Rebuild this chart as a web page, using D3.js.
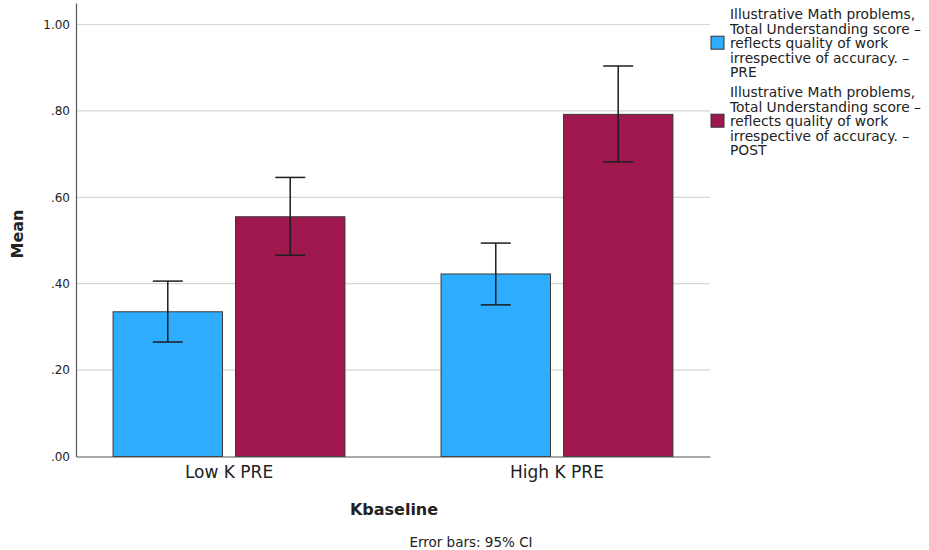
<!DOCTYPE html>
<html>
<head>
<meta charset="utf-8">
<script src="https://cdn.jsdelivr.net/npm/d3@7"></script>
<style>
  body { margin: 0; background: #fff; }
  svg text { font-family: "DejaVu Sans", sans-serif; fill: #222; }
</style>
</head>
<body>
<div id="chart"></div>
<script>
// Data
const categories = ["Low K PRE", "High K PRE"];
const seriesKeys = ["PRE", "POST"];
const preMeans = [0.335, 0.4225];
const preLower = [0.265, 0.351];
const preUpper = [0.406, 0.494];
const postMeans = [0.555, 0.792];
const postLower = [0.466, 0.682];
const postUpper = [0.646, 0.904];
const yTicks = [0, 0.2, 0.4, 0.6, 0.8, 1.0];
const legendLines = [
    "Illustrative Math problems,",
    "Total Understanding score –",
    "reflects quality of work",
    "irrespective of accuracy. –"
];
const colors = { PRE: "#2eadff", POST: "#9f184d" };

const width = 929, height = 550;
const plot = { left: 76, right: 710, top: 2.9, bottom: 456.5 };

const svg = d3.select("#chart")
    .append("svg")
    .attr("width", width)
    .attr("height", height);

// Build rows for each category/series
const rows = [];
categories.forEach((c, i) => {
    rows.push({ cat: c, key: "PRE", mean: preMeans[i], lo: preLower[i], hi: preUpper[i] });
    rows.push({ cat: c, key: "POST", mean: postMeans[i], lo: postLower[i], hi: postUpper[i] });
});

const x0 = d3.scaleBand()
    .domain(categories)
    .range([plot.left, plot.right])
    .paddingInner(0.293)
    .paddingOuter(0.113);

const x1 = d3.scaleBand()
    .domain(seriesKeys)
    .range([0, x0.bandwidth()])
    .paddingInner(0.106);

const y = d3.scaleLinear()
    .domain([0, 1.05])
    .range([plot.bottom, plot.top]);

// Gridlines
svg.append("g")
    .selectAll("line")
    .data(yTicks.filter(d => d > 0))
    .enter()
    .append("line")
    .attr("x1", plot.left)
    .attr("x2", plot.right)
    .attr("y1", d => y(d))
    .attr("y2", d => y(d))
    .attr("stroke", "#d6d6d6")
    .attr("stroke-width", 1.2);

// Bars
svg.append("g")
    .selectAll("rect")
    .data(rows)
    .enter()
    .append("rect")
    .attr("x", d => x0(d.cat) + x1(d.key))
    .attr("y", d => y(d.mean))
    .attr("width", x1.bandwidth())
    .attr("height", d => y(0) - y(d.mean))
    .attr("fill", d => colors[d.key])
    .attr("stroke", "#3a3a3a")
    .attr("stroke-width", 1);

// Error bars
const capHalf = 15;
const eb = svg.append("g")
    .selectAll("g")
    .data(rows)
    .enter()
    .append("g")
    .attr("stroke", "#1e1e1e")
    .attr("stroke-width", 1.5);

eb.append("line")
    .attr("x1", d => x0(d.cat) + x1(d.key) + x1.bandwidth() / 2)
    .attr("x2", d => x0(d.cat) + x1(d.key) + x1.bandwidth() / 2)
    .attr("y1", d => y(d.lo))
    .attr("y2", d => y(d.hi));

eb.selectAll(".cap")
    .data(d => [d.lo, d.hi].map(v => ({ v, cx: x0(d.cat) + x1(d.key) + x1.bandwidth() / 2 })))
    .enter()
    .append("line")
    .attr("class", "cap")
    .attr("x1", d => d.cx - capHalf)
    .attr("x2", d => d.cx + capHalf)
    .attr("y1", d => y(d.v))
    .attr("y2", d => y(d.v));

// Y axis
const yAxis = svg.append("g")
    .attr("transform", `translate(${plot.left},0)`)
    .call(d3.axisLeft(y).tickValues(yTicks).tickSize(0).tickPadding(6)
        .tickFormat(d => d3.format(".2f")(d).replace(/^0/, "")));
yAxis.select(".domain").attr("stroke", "#555").attr("stroke-width", 1.2);
yAxis.selectAll("text").style("font-size", "12px").attr("fill", "#222");

// X axis
const xAxis = svg.append("g")
    .attr("transform", `translate(0,${plot.bottom})`)
    .call(d3.axisBottom(x0).tickSize(0).tickPadding(9));
xAxis.select(".domain").attr("stroke", "#555").attr("stroke-width", 1.2);
xAxis.selectAll("text").style("font-size", "17px").attr("fill", "#222");

// Axis titles
svg.append("text")
    .attr("transform", "rotate(-90)")
    .attr("x", -234)
    .attr("y", 23)
    .style("text-anchor", "middle")
    .style("font-size", "16px")
    .style("font-weight", "bold")
    .text("Mean");

svg.append("text")
    .attr("x", 394)
    .attr("y", 515)
    .style("text-anchor", "middle")
    .style("font-size", "16px")
    .style("font-weight", "bold")
    .text("Kbaseline");

svg.append("text")
    .attr("x", 471)
    .attr("y", 547)
    .style("text-anchor", "middle")
    .style("font-size", "13.5px")
    .text("Error bars: 95% CI");

// Legend
const legend = svg.append("g");
seriesKeys.forEach((key, i) => {
    const top = 19 + i * 78;
    const g = legend.append("g");
    g.append("rect")
        .attr("x", 711)
        .attr("y", top + 2 * 14.6 - 12)
        .attr("width", 13)
        .attr("height", 13)
        .attr("fill", colors[key])
        .attr("stroke", "#333")
        .attr("stroke-width", 1);
    const t = g.append("text")
        .attr("x", 730)
        .attr("y", top)
        .style("font-size", "13.8px");
    legendLines.concat([key]).forEach((line, j) => {
        t.append("tspan")
            .attr("x", 730)
            .attr("dy", j === 0 ? 0 : 14.6)
            .text(line);
    });
});
</script>
</body>
</html>
